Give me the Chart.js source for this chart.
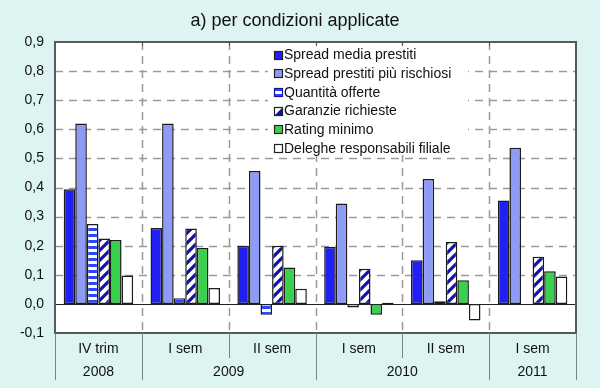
<!DOCTYPE html>
<html>
<head>
<meta charset="utf-8">
<script src="https://cdn.jsdelivr.net/npm/chart.js@4/dist/chart.umd.min.js"></script>
<style>
    html, body { margin: 0; padding: 0; background: #ddf4f2; }
    #chart { display: block; }
</style>
</head>
<body>
<canvas id="chart" width="600" height="388"></canvas>
<script>
const categories = ['IV trim', 'I sem', 'II sem', 'I sem', 'II sem', 'I sem'];
const yearLabels = ['2008', '2009', '2010', '2011'];
const yearSpans = [1, 2, 2, 1];
const yTicks = [-0.1, 0, 0.1, 0.2, 0.3, 0.4, 0.5, 0.6, 0.7, 0.8, 0.9];

const spreadMedia = [0.394, 0.261, 0.200, 0.196, 0.150, 0.355];
const spreadRischiosi = [0.620, 0.620, 0.457, 0.345, 0.429, 0.537];
const quantitaOfferte = [0.275, 0.019, -0.037, -0.012, 0.009, -0.002];
const garanzieRichieste = [0.225, 0.259, 0.200, 0.121, 0.213, 0.162];
const ratingMinimo = [0.220, 0.192, 0.125, -0.037, 0.081, 0.112];
const delegheFiliale = [0.098, 0.055, 0.052, 0.004, -0.057, 0.094];

const FONT = "'Liberation Sans', Arial, sans-serif";
const BG = '#ddf4f2';
const BLUE = '#2020f4';
const LIGHT = '#8d9bf6';
const NAVY = '#1212a6';
const GREEN = '#38d04c';

function stripePattern() {
    const c = document.createElement('canvas');
    c.width = 6; c.height = 6;
    const g = c.getContext('2d');
    g.fillStyle = '#ffffff';
    g.fillRect(0, 0, 6, 6);
    g.fillStyle = '#2a46ff';
    g.fillRect(0, 0, 6, 3);
    return g.createPattern(c, 'repeat');
}

function diagonalPattern() {
    const s = 10;
    const c = document.createElement('canvas');
    c.width = s; c.height = s;
    const g = c.getContext('2d');
    g.fillStyle = '#ffffff';
    g.fillRect(0, 0, s, s);
    g.strokeStyle = NAVY;
    g.lineWidth = 3.2;
    g.beginPath();
    g.moveTo(-2, s + 2); g.lineTo(s + 2, -2);
    g.moveTo(-2, 2); g.lineTo(2, -2);
    g.moveTo(s - 2, s + 2); g.lineTo(s + 2, s - 2);
    g.stroke();
    return g.createPattern(c, 'repeat');
}

const ctx0 = document.getElementById('chart').getContext('2d');
const stripes = stripePattern();
const diagonals = diagonalPattern();

const series = [
    { label: 'Spread media prestiti', data: spreadMedia, fill: BLUE, swatch: 'solid' },
    { label: 'Spread prestiti più rischiosi', data: spreadRischiosi, fill: LIGHT, swatch: 'solid' },
    { label: 'Quantità offerte', data: quantitaOfferte, fill: stripes, swatch: 'stripe' },
    { label: 'Garanzie richieste', data: garanzieRichieste, fill: diagonals, swatch: 'diag' },
    { label: 'Rating minimo', data: ratingMinimo, fill: GREEN, swatch: 'solid' },
    { label: 'Deleghe responsabili filiale', data: delegheFiliale, fill: '#ffffff', swatch: 'solid' },
];

const decorations = {
    id: 'decorations',
    beforeDraw(chart) {
        const { ctx, chartArea: a } = chart;
        ctx.save();
        ctx.fillStyle = BG;
        ctx.fillRect(0, 0, chart.width, chart.height);
        ctx.fillStyle = '#ffffff';
        ctx.fillRect(a.left, a.top, a.right - a.left, a.bottom - a.top);
        ctx.restore();
    },
    beforeDatasetsDraw(chart) {
        const { ctx, chartArea: a, scales: { y } } = chart;
        ctx.save();
        ctx.strokeStyle = '#9a9a9a';
        ctx.lineWidth = 1.5;
        ctx.setLineDash([8, 6]);
        yTicks.forEach((v) => {
            if (v <= -0.1 || v >= 0.9 || v === 0) return;
            const py = Math.round(y.getPixelForValue(v)) + 0.5;
            ctx.beginPath();
            ctx.moveTo(a.left, py);
            ctx.lineTo(a.right, py);
            ctx.stroke();
        });
        const step = (a.right - a.left) / categories.length;
        for (let i = 1; i < categories.length; i++) {
            const px = Math.round(a.left + step * i) + 0.5;
            ctx.beginPath();
            ctx.moveTo(px, a.top);
            ctx.lineTo(px, a.bottom);
            ctx.stroke();
        }
        ctx.setLineDash([]);

        // legend box, sits over the grid
        const lx = 268, ly = 45;
        ctx.fillStyle = '#ffffff';
        ctx.fillRect(lx, ly, 200, 110);
        ctx.font = '14px ' + FONT;
        ctx.textBaseline = 'middle';
        ctx.textAlign = 'left';
        series.forEach((s, i) => {
            const cy = 55 + i * 18.7;
            const sx = 274, sy = Math.round(cy - 4.5), sz = 9;
            if (s.swatch === 'stripe') {
                ctx.fillStyle = '#2a46ff';
                ctx.fillRect(sx, sy, sz, sz);
                ctx.fillStyle = '#ffffff';
                ctx.fillRect(sx, sy + 3, sz, 3);
                ctx.strokeStyle = NAVY;
            } else if (s.swatch === 'diag') {
                ctx.fillStyle = '#ffffff';
                ctx.fillRect(sx, sy, sz, sz);
                ctx.fillStyle = NAVY;
                ctx.beginPath();
                ctx.moveTo(sx + sz, sy);
                ctx.lineTo(sx + sz, sy + sz);
                ctx.lineTo(sx, sy + sz);
                ctx.closePath();
                ctx.fill();
                ctx.strokeStyle = '#222';
            } else {
                ctx.fillStyle = s.fill;
                ctx.fillRect(sx, sy, sz, sz);
                ctx.strokeStyle = '#222';
            }
            ctx.lineWidth = 1.2;
            ctx.strokeRect(sx + 0.5, sy + 0.5, sz - 1, sz - 1);
            ctx.fillStyle = '#111';
            ctx.fillText(s.label, 284, cy + 0.5);
        });
        ctx.restore();
    },
    afterDatasetsDraw(chart) {
        const { ctx, chartArea: a, scales: { y } } = chart;
        ctx.save();
        // zero line
        const zy = Math.round(y.getPixelForValue(0)) + 0.5;
        ctx.strokeStyle = '#222';
        ctx.lineWidth = 1.2;
        ctx.beginPath();
        ctx.moveTo(a.left, zy);
        ctx.lineTo(a.right, zy);
        ctx.stroke();

        // plot frame
        ctx.strokeStyle = '#555a5a';
        ctx.lineWidth = 2;
        ctx.strokeRect(a.left, a.top, a.right - a.left, a.bottom - a.top);

        const step = (a.right - a.left) / categories.length;
        // small ticks on top border
        ctx.lineWidth = 1;
        for (let i = 1; i < categories.length; i++) {
            const px = Math.round(a.left + step * i) + 0.5;
            ctx.beginPath();
            ctx.moveTo(px, a.top);
            ctx.lineTo(px, a.top + 4);
            ctx.stroke();
        }

        // two-level category axis
        const yearBounds = [0];
        yearSpans.forEach((n) => yearBounds.push(yearBounds[yearBounds.length - 1] + n));
        ctx.strokeStyle = '#7a8484';
        ctx.lineWidth = 1;
        for (let i = 0; i <= categories.length; i++) {
            const px = Math.round(a.left + step * i) + 0.5;
            const full = yearBounds.includes(i);
            ctx.beginPath();
            ctx.moveTo(px, a.bottom);
            ctx.lineTo(px, full ? 380 : 358);
            ctx.stroke();
        }
        ctx.fillStyle = '#111';
        ctx.font = '14px ' + FONT;
        ctx.textAlign = 'center';
        ctx.textBaseline = 'middle';
        categories.forEach((c, i) => {
            ctx.fillText(c, a.left + step * (i + 0.5), 349);
        });
        yearLabels.forEach((yr, i) => {
            const mid = (yearBounds[i] + yearBounds[i + 1]) / 2;
            ctx.fillText(yr, a.left + step * mid, 372);
        });

        // title
        ctx.font = '18px ' + FONT;
        ctx.fillText('a) per condizioni applicate', 295, 21);
        ctx.restore();
    },
};

new Chart(ctx0, {
    type: 'bar',
    data: {
        labels: categories,
        datasets: series.map((s) => ({
            label: s.label,
            data: s.data,
            backgroundColor: s.fill,
            borderColor: '#1c1c1c',
            borderWidth: 1.5,
            borderSkipped: false,
            categoryPercentage: 0.8,
            barPercentage: 1.0,
        })),
    },
    options: {
        responsive: false,
        animation: false,
        devicePixelRatio: 1,
        layout: { padding: { top: 42, right: 24, left: 0, bottom: 0 } },
        plugins: {
            legend: { display: false },
            tooltip: { enabled: false },
            title: { display: false },
        },
        scales: {
            x: {
                grid: { display: false, drawTicks: false },
                border: { display: false },
                ticks: { display: false },
                afterFit(scale) { scale.height = 55; },
            },
            y: {
                min: -0.1,
                max: 0.9,
                afterBuildTicks(scale) { scale.ticks = yTicks.map((v) => ({ value: v })); },
                grid: { display: false, drawTicks: false },
                border: { display: false },
                ticks: {
                    padding: 11,
                    color: '#111',
                    font: { family: FONT, size: 14 },
                    callback: (v) => Number(v).toFixed(1).replace('.', ','),
                },
                afterFit(scale) { scale.width = 55; },
            },
        },
    },
    plugins: [decorations],
});
</script>
</body>
</html>
